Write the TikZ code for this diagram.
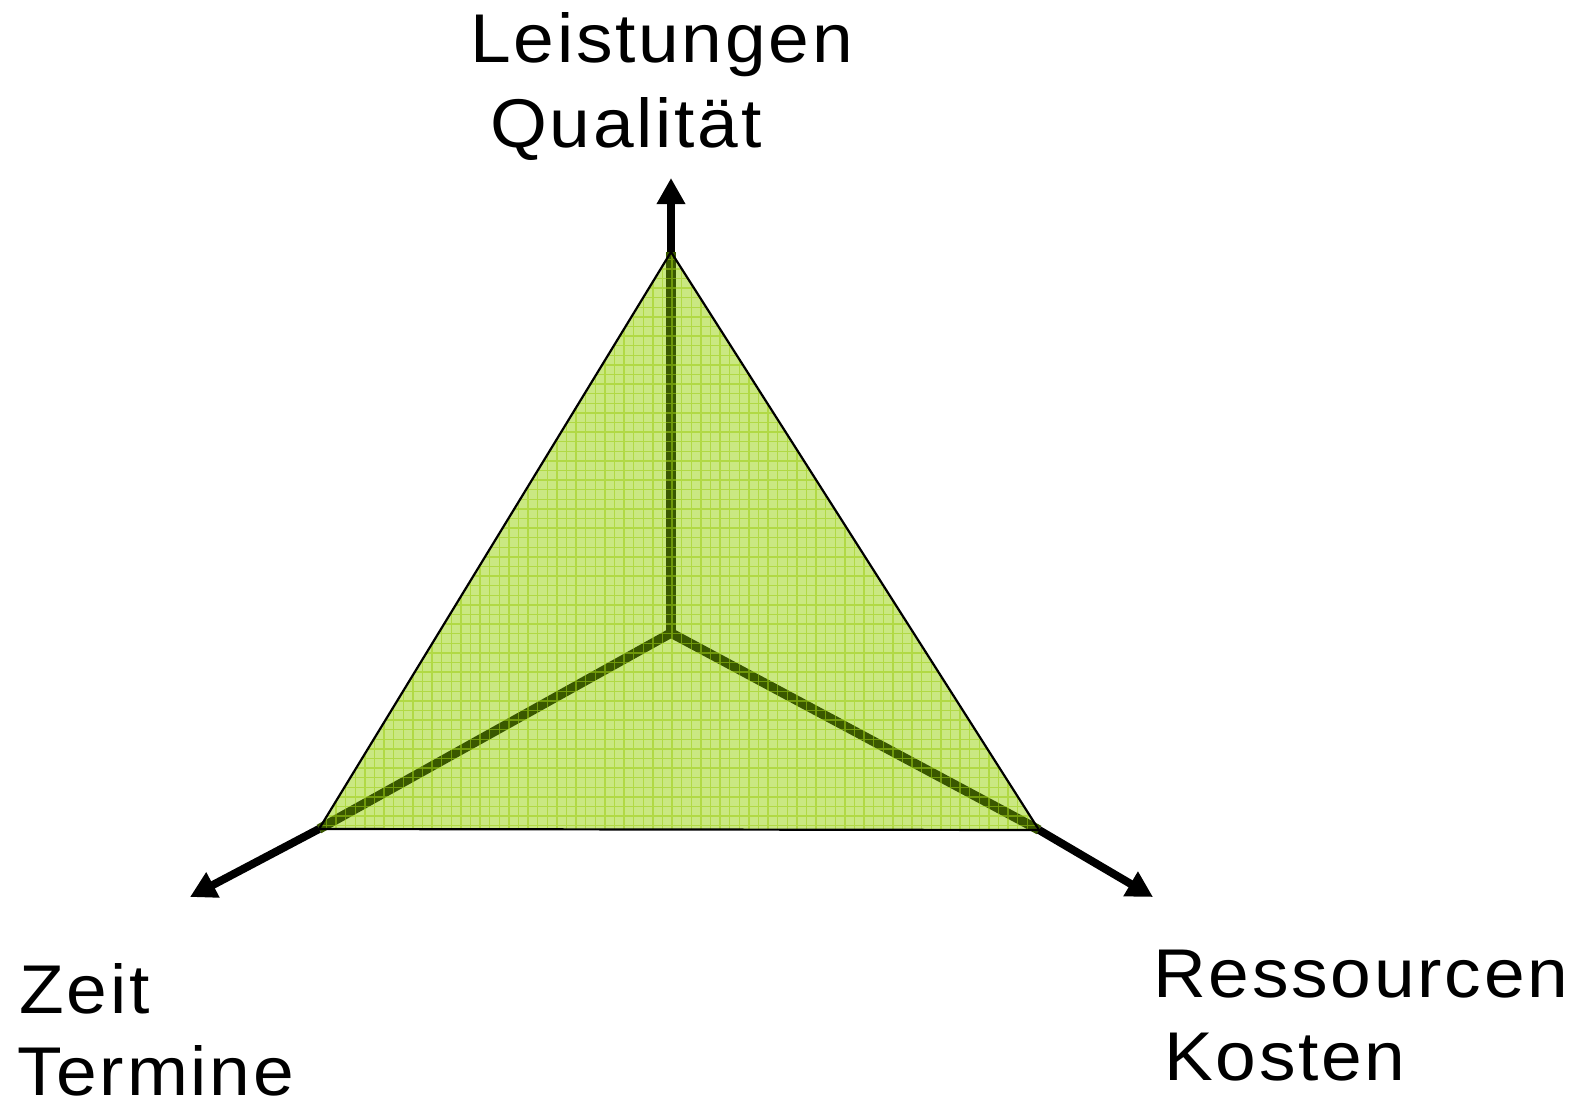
\documentclass[tikz,border=0pt]{standalone}
\usepackage{fontspec}
\setmainfont{Liberation Sans}[LetterSpace=4, FakeStretch=1.06]
\usetikzlibrary{arrows.meta}

\definecolor{fillgreen}{RGB}{202,232,130}
\definecolor{gridgreen}{RGB}{158,206,20}
\definecolor{spokegreen}{RGB}{58,88,0}

\begin{document}
\begin{tikzpicture}[
    x=1pt, y=-1pt,
    axis/.style={
        line width=8pt,
        -{Triangle[length=26pt,width=27pt]}
    },
    spoke/.style={line width=9.5pt, draw=spokegreen},
    lbl/.style={
        anchor=base west,
        inner sep=0pt,
        font=\fontsize{69}{83}\selectfont
    }
]
\useasboundingbox (0,0) rectangle (1569,1103);

% corners of the triangle
\coordinate (Q) at (671,252);
\coordinate (Z) at (319,829);
\coordinate (R) at (1039,830);
\coordinate (M) at (671,633);

% free ends of the arrows
\coordinate (Qtip) at (671,178);
\coordinate (Ztip) at (190,897);
\coordinate (Rtip) at (1153,897);

\fill[fillgreen] (Q) -- (Z) -- (R) -- cycle;

\draw[spoke] (M) -- (Q);
\draw[spoke] (M) -- (Z);
\draw[spoke] (M) -- (R);

\begin{scope}
\clip (Q) -- (Z) -- (R) -- cycle;
\draw[gridgreen, line width=1.4pt, opacity=0.55] (300,240) grid[step=9.6pt] (1060,840);
\end{scope}

\draw[black, line width=2.2pt, line join=round] (Q) -- (Z) -- (R) -- cycle;

\draw[axis] (Q) -- (Qtip);
\draw[axis] (Z) -- (Ztip);
\draw[axis] (R) -- (Rtip);

\node[lbl] (leistungen) at (470,62) {Leistungen};
\node[lbl] (qualitaet) at (490,147) {Qualität};
\node[lbl] (zeit) at (19,1013) {Zeit};
\node[lbl] (termine) at (17,1095) {Termine};
\node[lbl] (ressourcen) at (1153,997) {Ressourcen};
\node[lbl] (kosten) at (1164,1080) {Kosten};

\end{tikzpicture}
\end{document}
